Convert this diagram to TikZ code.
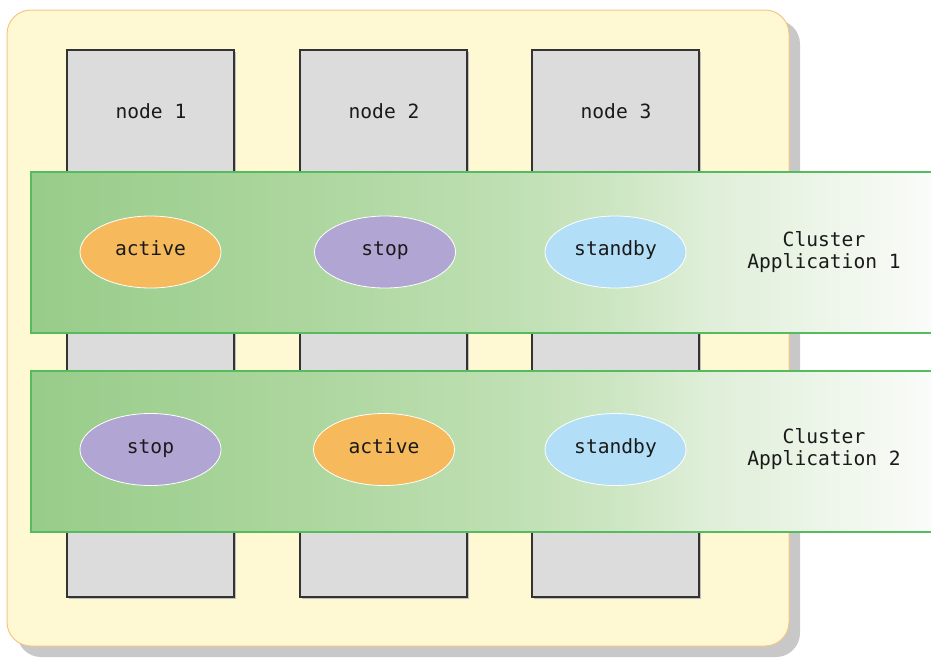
\documentclass[tikz,border=0pt]{standalone}
\usepackage{fontspec}
\setmonofont{DejaVu Sans Mono}
\usetikzlibrary{shapes.geometric}
\definecolor{outerfill}{HTML}{FFF9D3}
\definecolor{outerline}{HTML}{F5C585}
\definecolor{shadowgray}{HTML}{C8C8C8}
\definecolor{boxfill}{HTML}{DCDCDC}
\definecolor{boxline}{HTML}{333333}
\definecolor{bandline}{HTML}{55BB5F}
\definecolor{actfill}{HTML}{F6B95C}
\definecolor{stopfill}{HTML}{B1A6D3}
\definecolor{stbyfill}{HTML}{B2DFF7}
\definecolor{txt}{HTML}{1A1A1A}
\definecolor{gA}{RGB}{152,204,138}
\definecolor{gB}{RGB}{172,214,158}
\definecolor{gC}{RGB}{190,223,178}
\definecolor{gD}{RGB}{205,230,195}
\definecolor{gE}{RGB}{222,238,215}
\definecolor{gF}{RGB}{250,252,249}
% path bbox maps to 25bp..75bp
\pgfdeclarehorizontalshading{bandshade}{100bp}{color(0bp)=(gA); color(25bp)=(gA); color(39.9bp)=(gB); color(51bp)=(gC); color(57.4bp)=(gD); color(62bp)=(gE); color(75bp)=(gF); color(100bp)=(gF)}
\tikzset{
  lbl/.style={font=\ttfamily\fontsize{19.6}{22}\selectfont, text=txt},
  nodebox/.style={draw=boxline, line width=1.3pt, fill=boxfill},
  band/.style={draw=bandline, line width=1.6pt, shading=bandshade},
  state/.style={ellipse, draw=white, line width=0.8pt, minimum width=141pt, minimum height=72pt, inner sep=0pt, text height=12pt, text depth=5pt, lbl},
}
\begin{document}
\begin{tikzpicture}[x=1pt,y=-1pt]
\useasboundingbox (0,0) rectangle (931,657);
% outer frame with shadow
\fill[shadowgray, rounded corners=24pt] (17,20) rectangle (800,657);
\draw[outerline, fill=outerfill, line width=1pt, rounded corners=24pt] (7,10) rectangle (789,646);
% node boxes
\foreach \i/\xl in {1/67,2/300,3/532}{
  \fill[gray!50] (\xl+1.5,52) rectangle (\xl+169,598.5);
  \draw[nodebox] (\xl,50) rectangle (\xl+167,597);
  \node[lbl] (n\i) at (\xl+84,111) {node \i};
}
% bands
\path[band] (31,172) rectangle (935,333);
\path[band] (31,371) rectangle (935,532);
\draw[bandline, line width=1.6pt] (31,172) -- (935,172) (31,333) -- (935,333);
\draw[bandline, line width=1.6pt] (31,371) -- (935,371) (31,532) -- (935,532);
% states row 1
\node[state, fill=actfill] (a1) at (150.5,252) {active};
\node[state, fill=stopfill] (s1) at (385,252) {stop};
\node[state, fill=stbyfill] (b1) at (615.5,252) {standby};
\node[lbl, align=center] (c1) at (824,252) {Cluster\\Application 1};
% states row 2
\node[state, fill=stopfill] (s2) at (150.5,449.5) {stop};
\node[state, fill=actfill] (a2) at (384,449.5) {active};
\node[state, fill=stbyfill] (b2) at (615.5,449.5) {standby};
\node[lbl, align=center] (c2) at (824,449) {Cluster\\Application 2};
\end{tikzpicture}
\end{document}
